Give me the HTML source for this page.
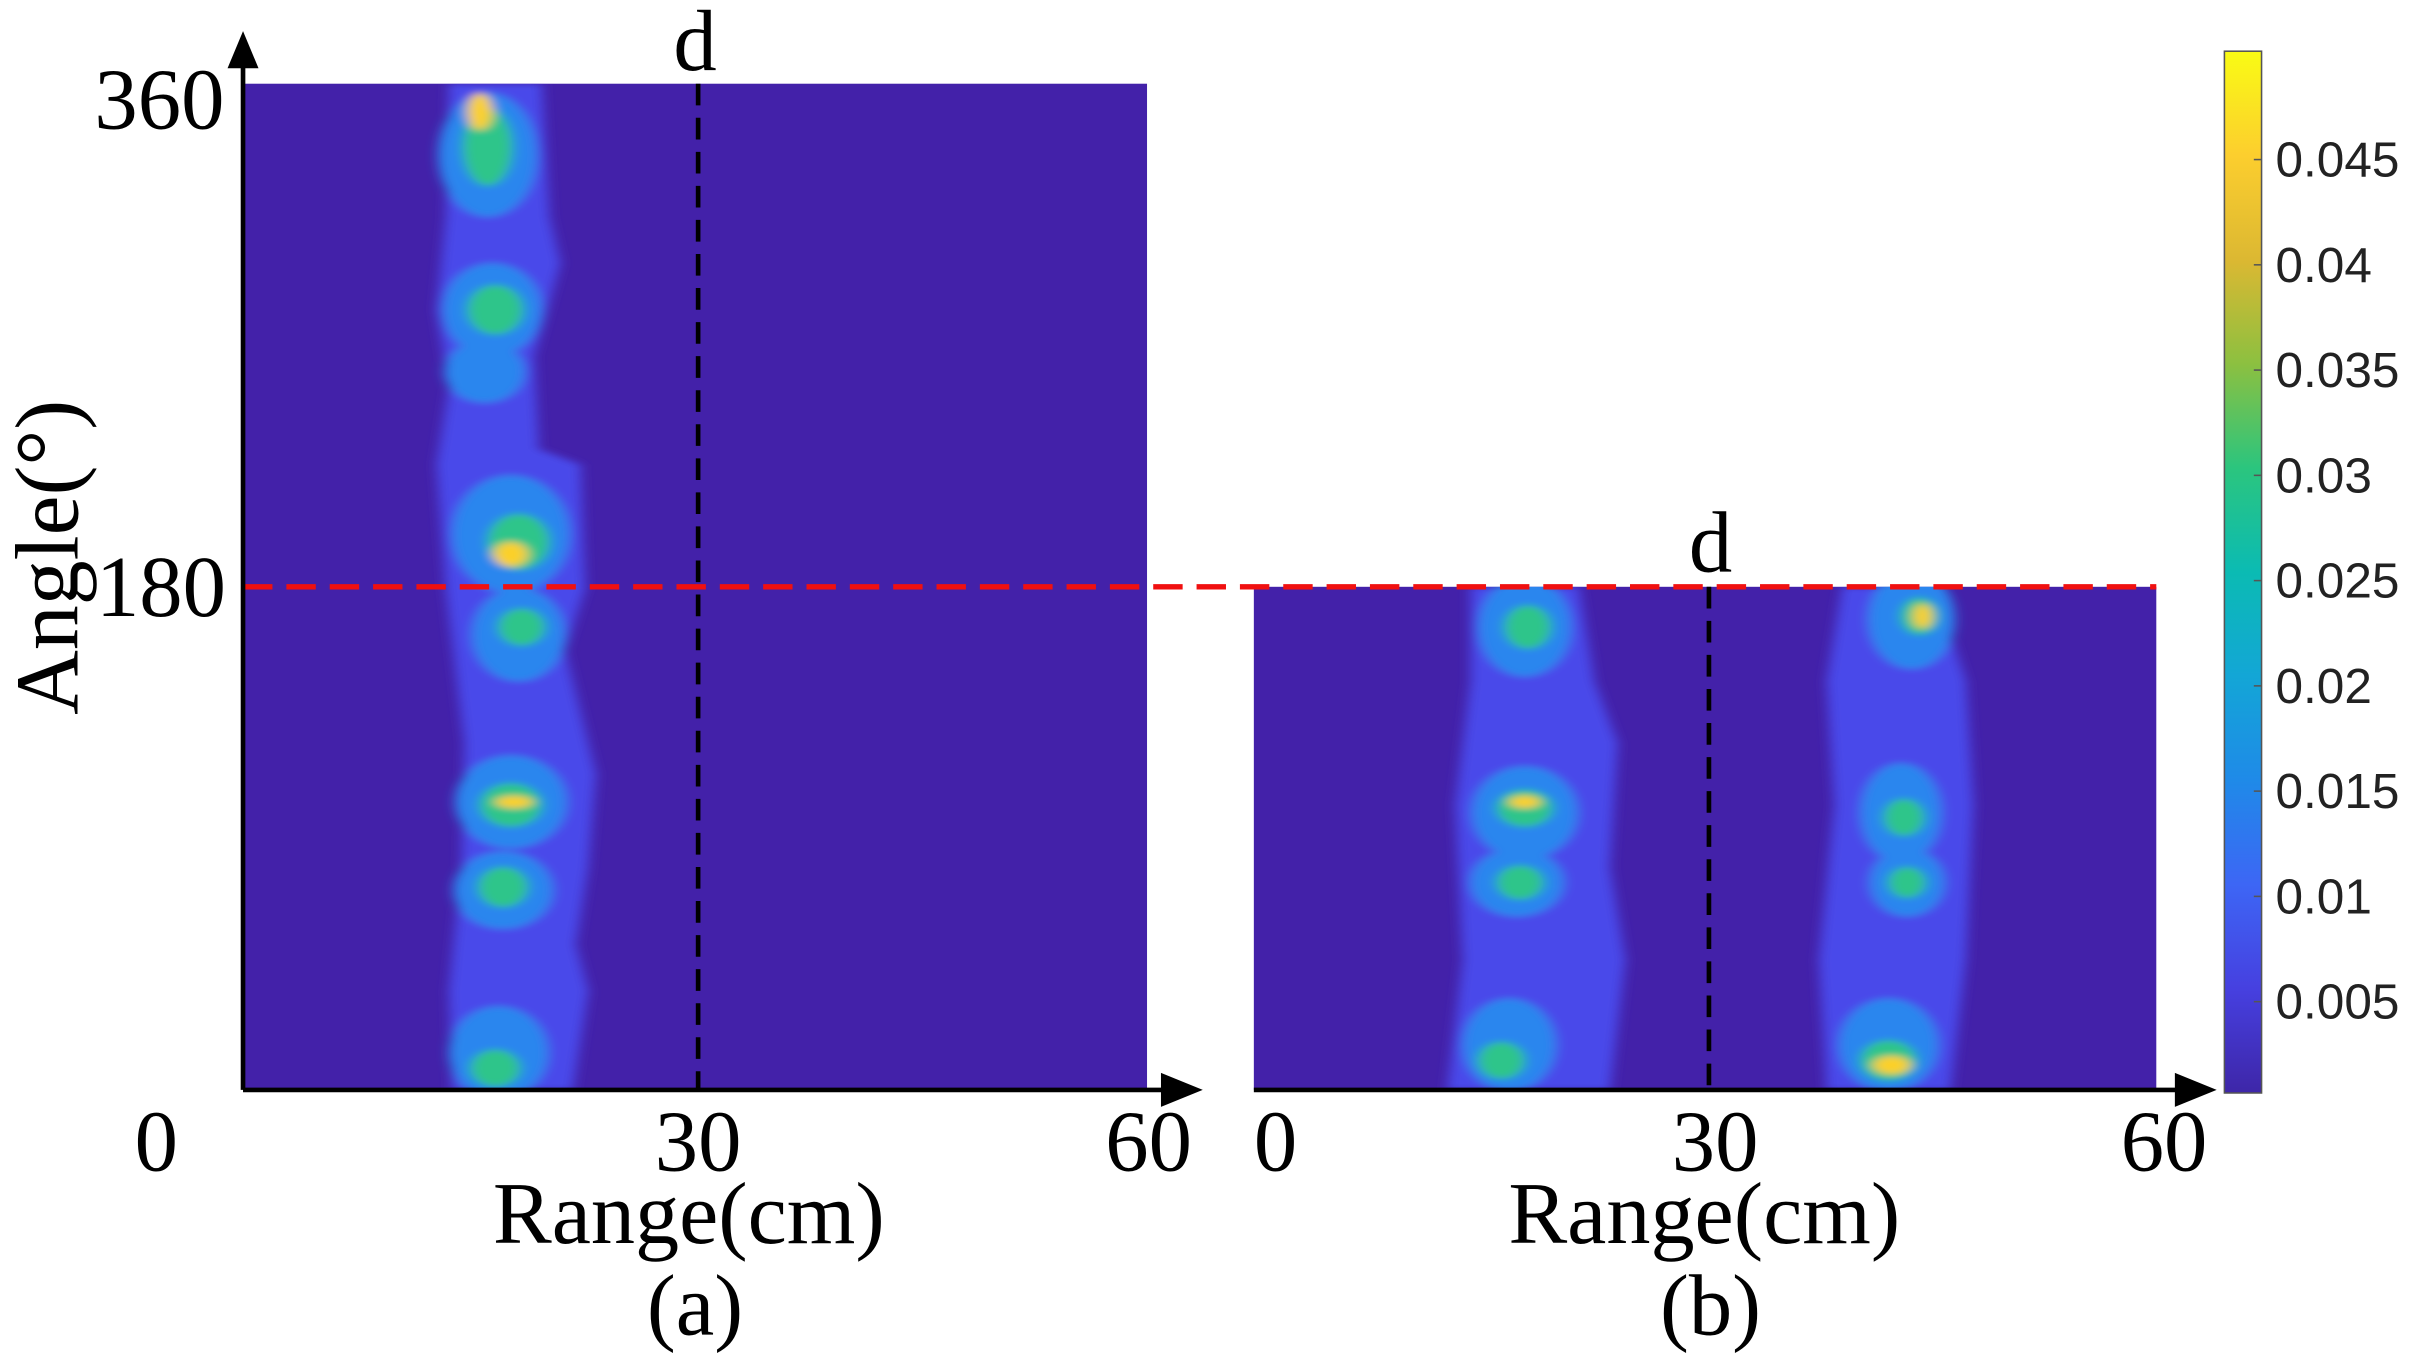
<!DOCTYPE html>
<html><head><meta charset="utf-8"><style>html,body{margin:0;padding:0;background:#fff}svg{display:block}</style></head>
<body>
<svg width="2421" height="1364" viewBox="0 0 1564 881" xmlns="http://www.w3.org/2000/svg">
<defs>
<linearGradient id="cb" x1="0" y1="1" x2="0" y2="0">
<stop offset="0" stop-color="#3e26a8"/><stop offset="0.1" stop-color="#4640e0"/><stop offset="0.2" stop-color="#3d66f5"/>
<stop offset="0.3" stop-color="#1f8ae8"/><stop offset="0.4" stop-color="#13a6d6"/><stop offset="0.5" stop-color="#0bbbb3"/>
<stop offset="0.6" stop-color="#2bc57e"/><stop offset="0.7" stop-color="#8cc040"/><stop offset="0.8" stop-color="#dcb832"/>
<stop offset="0.9" stop-color="#fcce2e"/><stop offset="1" stop-color="#f9fb14"/></linearGradient>
<filter id="bl" x="-50%" y="-50%" width="200%" height="200%"><feGaussianBlur stdDeviation="4 2"/></filter>
<clipPath id="ca"><rect x="157" y="54" width="584" height="650"/></clipPath>
<clipPath id="cbp"><rect x="810" y="379" width="583" height="325"/></clipPath>
</defs>
<rect x="157" y="54" width="584" height="650" fill="#4321a9"/>
<rect x="810" y="379" width="583" height="325" fill="#4321a9"/>
<g clip-path="url(#ca)" filter="url(#bl)">
<path d="M290 54 L350 54 L355 140 L362 170 L345 230 L348 290 L375 300 L378 380 L365 420 L385 500 L380 560 L372 610 L380 640 L370 704 L292 704 L290 640 L298 560 L300 480 L288 380 L282 300 L290 250 L282 200 L288 140 Z" fill="#4a4aea"/>
<ellipse cx="315" cy="100" rx="32" ry="40" fill="#2a86ee"/>
<ellipse cx="318" cy="200" rx="32" ry="30" fill="#2a86ee"/>
<ellipse cx="313" cy="240" rx="26" ry="20" fill="#2a86ee"/>
<ellipse cx="330" cy="345" rx="38" ry="38" fill="#2a86ee"/>
<ellipse cx="335" cy="410" rx="30" ry="30" fill="#2a86ee"/>
<ellipse cx="330" cy="518" rx="36" ry="30" fill="#2a86ee"/>
<ellipse cx="325" cy="575" rx="32" ry="25" fill="#2a86ee"/>
<ellipse cx="322" cy="680" rx="32" ry="30" fill="#2a86ee"/>
<ellipse cx="315" cy="95" rx="16" ry="25" fill="#2fc58a"/>
<ellipse cx="320" cy="200" rx="18" ry="16" fill="#2fc58a"/>
<ellipse cx="335" cy="350" rx="20" ry="18" fill="#2fc58a"/>
<ellipse cx="337" cy="405" rx="15" ry="12" fill="#2fc58a"/>
<ellipse cx="330" cy="520" rx="20" ry="14" fill="#2fc58a"/>
<ellipse cx="325" cy="573" rx="16" ry="13" fill="#2fc58a"/>
<ellipse cx="320" cy="690" rx="16" ry="12" fill="#2fc58a"/>
<ellipse cx="310" cy="72" rx="8" ry="12" fill="#fbd02c"/>
<ellipse cx="330" cy="358" rx="11" ry="8" fill="#fbd02c"/>
<ellipse cx="332" cy="518" rx="12" ry="4" fill="#fbd02c"/>
</g>
<g clip-path="url(#cbp)" filter="url(#bl)">
<path d="M950 379 L1020 379 L1030 440 L1045 480 L1040 560 L1050 620 L1040 704 L935 704 L945 620 L940 520 L950 440 Z" fill="#4a4aea"/>
<path d="M1190 379 L1250 379 L1270 440 L1275 520 L1270 620 L1260 704 L1180 704 L1175 620 L1185 520 L1180 440 Z" fill="#4a4aea"/>
<ellipse cx="985" cy="405" rx="30" ry="32" fill="#2a86ee"/>
<ellipse cx="985" cy="525" rx="34" ry="30" fill="#2a86ee"/>
<ellipse cx="980" cy="570" rx="30" ry="22" fill="#2a86ee"/>
<ellipse cx="975" cy="675" rx="30" ry="30" fill="#2a86ee"/>
<ellipse cx="1235" cy="400" rx="28" ry="32" fill="#2a86ee"/>
<ellipse cx="1228" cy="525" rx="26" ry="32" fill="#2a86ee"/>
<ellipse cx="1232" cy="570" rx="24" ry="22" fill="#2a86ee"/>
<ellipse cx="1220" cy="675" rx="32" ry="30" fill="#2a86ee"/>
<ellipse cx="987" cy="405" rx="15" ry="14" fill="#2fc58a"/>
<ellipse cx="985" cy="522" rx="18" ry="12" fill="#2fc58a"/>
<ellipse cx="982" cy="570" rx="15" ry="11" fill="#2fc58a"/>
<ellipse cx="970" cy="685" rx="15" ry="12" fill="#2fc58a"/>
<ellipse cx="1240" cy="398" rx="12" ry="12" fill="#2fc58a"/>
<ellipse cx="1230" cy="528" rx="13" ry="12" fill="#2fc58a"/>
<ellipse cx="1232" cy="570" rx="12" ry="10" fill="#2fc58a"/>
<ellipse cx="1220" cy="685" rx="18" ry="13" fill="#2fc58a"/>
<ellipse cx="985" cy="518" rx="10" ry="4" fill="#fbd02c"/>
<ellipse cx="1242" cy="398" rx="6" ry="8" fill="#fbd02c"/>
<ellipse cx="1222" cy="688" rx="12" ry="6" fill="#fbd02c"/>
</g>
<line x1="451" y1="54" x2="451" y2="704" stroke="#000" stroke-width="3" stroke-dasharray="14 8"/>
<line x1="1104" y1="379" x2="1104" y2="704" stroke="#000" stroke-width="3" stroke-dasharray="14 8"/>
<line x1="157" y1="379" x2="1393" y2="379" stroke="#f01010" stroke-width="3.5" stroke-dasharray="19 9"/>
<line x1="157" y1="704" x2="157" y2="40" stroke="#000" stroke-width="3"/>
<polygon points="157,20 147,44 167,44" fill="#000"/>
<line x1="157" y1="704" x2="755" y2="704" stroke="#000" stroke-width="3"/>
<polygon points="777,704 750,693 750,715" fill="#000"/>
<line x1="810" y1="704" x2="1410" y2="704" stroke="#000" stroke-width="3"/>
<polygon points="1432,704 1405,693 1405,715" fill="#000"/>
<rect x="1437" y="33" width="24" height="673" fill="url(#cb)" stroke="#555" stroke-width="1"/>
<g font-family="Liberation Sans, sans-serif" font-size="32" fill="#222">
<text x="1470" y="114">0.045</text><text x="1470" y="182">0.04</text><text x="1470" y="250">0.035</text>
<text x="1470" y="318">0.03</text><text x="1470" y="386">0.025</text><text x="1470" y="454">0.02</text>
<text x="1470" y="522">0.015</text><text x="1470" y="590">0.01</text><text x="1470" y="658">0.005</text>
</g>
<g stroke="#555" stroke-width="1"><line x1="1456" y1="103" x2="1461" y2="103"/><line x1="1456" y1="171" x2="1461" y2="171"/><line x1="1456" y1="239" x2="1461" y2="239"/><line x1="1456" y1="307" x2="1461" y2="307"/><line x1="1456" y1="375" x2="1461" y2="375"/><line x1="1456" y1="443" x2="1461" y2="443"/><line x1="1456" y1="511" x2="1461" y2="511"/><line x1="1456" y1="579" x2="1461" y2="579"/><line x1="1456" y1="647" x2="1461" y2="647"/></g>
<g font-family="Liberation Serif, serif" font-size="56" fill="#000" text-anchor="middle">
<text x="449" y="45">d</text><text x="1105" y="369">d</text>
<text x="103" y="83">360</text><text x="104" y="398">180</text>
<text x="101" y="756">0</text><text x="451" y="756">30</text><text x="742" y="756">60</text>
<text x="824" y="756">0</text><text x="1108" y="756">30</text><text x="1398" y="756">60</text>
<text x="445" y="803" font-size="57">Range(cm)</text><text x="1101" y="803" font-size="57">Range(cm)</text>
<text x="449" y="862">(a)</text><text x="1105" y="862">(b)</text>
<text x="0" y="0" font-size="58" transform="translate(50,360) rotate(-90)">Angle(°)</text>
</g>
</svg>
</body></html>
